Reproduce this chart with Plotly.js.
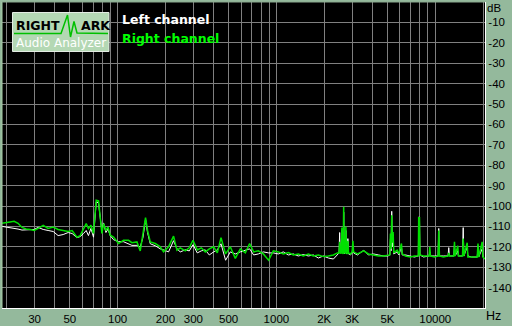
<!DOCTYPE html>
<html>
<head>
<meta charset="utf-8">
<script src="https://cdn.plot.ly/plotly-3.0.1.min.js"></script>
<style>html,body{margin:0;padding:0;background:#94b99c;}#chart{width:512px;height:326px;}</style>
</head>
<body>
<div id="chart"></div>
<script>
// ---- data (frequency in Hz, level in dB) ----
const freqHz = [
  18.7, 19.9, 21.0, 22.3, 23.6, 25.0, 26.5, 28.1, 29.8, 31.6,
  34.0, 36.5, 39.3, 42.2, 45.4, 48.8, 51.7, 55.4, 58.1, 61.0,
  63.4, 65.5, 67.9, 70.5, 73.3, 75.8, 77.7, 79.6, 81.5, 84.4,
  86.9, 89.8, 94.2, 101.3, 108.9, 117.1, 123.0, 132.3, 138.8, 144.3,
  149.9, 154.3, 160.5, 172.6, 185.5, 194.6, 209.3, 225.0, 236.4, 248.0,
  266.7, 282.6, 298.2, 317.4, 336.4, 356.5, 377.8, 402.2, 424.3, 447.7,
  478.6, 512.3, 551.0, 592.4, 637.2, 678.0, 718.6, 769.1, 827, 893,
  956, 1028, 1105, 1189, 1278, 1374, 1477, 1589, 1708, 1837,
  1976, 2124, 2284, 2421, 2480, 2502, 2525, 2560, 2584, 2610,
  2635, 2652, 2670, 2710, 2738, 2765, 2795, 2819, 2845, 2924,
  3000, 3031, 3060, 3236, 3546, 3796, 4082, 4389, 4719, 5038,
  5180, 5224, 5270, 5323, 5375, 5432, 5480, 5757, 5900, 6128,
  6200, 6492, 6981, 7396, 7830, 7870, 7960, 8010, 8434, 9150,
  9239, 9330, 9890, 10430, 10527, 10630, 11270, 12050, 12170, 12290,
  13100, 13222, 13350, 13868, 14000, 14850, 15003, 15150, 15899, 16050,
  16921, 18400, 18593, 18780, 19759, 19950, 20583
];
const leftDb = [
  -110, -110.3, -110.5, -111, -111.3, -111.8, -111.8, -111.5, -111.5, -110.5,
  -111.5, -112, -112.5, -114.5, -114, -113, -113.5, -115.5, -115, -113.5,
  -112, -114.5, -111, -115.3, -98, -98.5, -106, -112.5, -108.3, -113,
  -111.3, -114.5, -116.5, -117.5, -117.5, -118.5, -119.3, -119.3, -120, -115.5,
  -106.5, -113, -118.5, -119.5, -121, -121.5, -122.5, -117, -121, -122.5,
  -121.5, -122, -119, -123, -122, -121.5, -124, -122.5, -121.5, -118.5,
  -126.6, -122.5, -123.5, -122.5, -121.5, -121, -124, -123.5, -122.5, -123,
  -123, -123.5, -122.5, -124, -123.5, -124.5, -123.8, -124.5, -124, -125.5,
  -124.5, -125.5, -126, -123.5, -123, -113, -123, -123, -112, -123,
  -123, -103, -123.5, -123, -112, -123.5, -123, -116, -123.5, -124,
  -123, -119.5, -123, -124, -121.7, -124, -123.5, -124, -124.5, -124.5,
  -124, -116, -122, -102.6, -120, -114, -123.5, -122.5, -124, -120,
  -124, -124, -124.5, -125, -124.5, -105.4, -105.5, -124, -125, -124.5,
  -122.5, -124.5, -124.5, -124.5, -111, -124.5, -124.5, -124.5, -120.4, -124.5,
  -124.5, -119, -124.5, -122, -124.5, -124.5, -110.6, -124.5, -120, -124.5,
  -125, -125, -119.5, -125, -121, -125, -126
];
const rightDb = [
  -108.5, -108.3, -107.8, -107.5, -108.5, -110.5, -111.3, -111.5, -112, -111,
  -109.5, -111, -110.3, -111.5, -112, -112.5, -112, -115.3, -114.5, -111,
  -108.6, -111, -109.4, -113.5, -97.2, -97.5, -105.4, -113.5, -108.6, -112,
  -110.3, -114.3, -115.2, -118.4, -116.8, -116.8, -118, -117.6, -122, -114.3,
  -105.7, -112, -117.6, -118.4, -120, -122.5, -120, -114.8, -121.7, -120.5,
  -122, -120.5, -116.8, -121.5, -120.5, -122.5, -121, -120, -123, -115.5,
  -123.5, -120, -125.7, -121, -123, -118.4, -122.5, -122, -123.5, -126.6,
  -122, -122.5, -123.5, -122.8, -124, -123.5, -124.5, -123.5, -124.5, -124,
  -124.8, -124.5, -124, -123, -123, -117.6, -123, -123, -110.5, -123,
  -123.5, -100.4, -123, -123, -110, -123, -123.5, -117, -123, -123.5,
  -122.5, -117, -122.5, -123.5, -122, -123.5, -124, -124.5, -124.5, -124,
  -124, -113.5, -121, -104.5, -118, -112.7, -123, -121.7, -123.5, -118.4,
  -123.5, -124.5, -125, -124.5, -124.5, -105.7, -105.7, -124, -124.5, -124.5,
  -120, -124.5, -125, -124.5, -112, -124.5, -125, -124.5, -123, -124.5,
  -124.5, -117.6, -124.5, -119.5, -124.5, -124.5, -116, -124.5, -118, -125,
  -125, -125, -118.4, -125, -117.6, -125, -126
];
const xGridVals = [20,30,40,50,60,70,80,90,100,200,300,400,500,600,700,800,900,
  1000,2000,3000,4000,5000,6000,7000,8000,9000,10000,20000];
const xLabelMap = {30:'30',50:'50',100:'100',200:'200',300:'300',500:'500',
  1000:'1000',2000:'2K',3000:'3K',5000:'5K',10000:'10000'};
const yTickVals = [-140,-130,-120,-110,-100,-90,-80,-70,-60,-50,-40,-30,-20,-10];
const yTickText = ['-140','-130','-120','-110','-100','-90','-80','-70','-60','-50','-40','-30','-20','-10'];
const seriesNames = ['Left channel', 'Right channel'];

// ---- layout helpers ----
const W = 512, H = 326, ML = 2, MR = 27, MT = 2, MB = 18;
const PW = W - ML - MR, PH = H - MT - MB;
const px = x => (x - ML) / PW;
const py = y => 1 - (y - MT) / PH;

const traces = [
  {x: freqHz, y: leftDb, type: 'scatter', mode: 'lines', name: seriesNames[0],
   line: {color: '#ffffff', width: 1}, hoverinfo: 'skip'},
  {x: freqHz, y: rightDb, type: 'scatter', mode: 'lines', name: seriesNames[1],
   line: {color: '#00e000', width: 1.5}, hoverinfo: 'skip'}
];

const tickFont = {family: 'Liberation Sans, Arial, sans-serif', size: 11.5, color: '#000000'};
const logoPath = 'M' + px(14) + ',' + py(33.5) + ' L' + px(61) + ',' + py(33.5) +
  ' L' + px(67.5) + ',' + py(15) + ' L' + px(70.5) + ',' + py(37) +
  ' L' + px(74) + ',' + py(21.5) + ' L' + px(77) + ',' + py(33) +
  ' L' + px(108) + ',' + py(33.5);

const layout = {
  width: W, height: H,
  margin: {l: ML, r: MR, t: MT, b: MB, pad: 0},
  paper_bgcolor: '#94b99c',
  plot_bgcolor: '#000000',
  showlegend: false,
  xaxis: {
    type: 'log', range: [Math.log10(18.7), Math.log10(20583)],
    tickmode: 'array', tickvals: xGridVals,
    ticktext: xGridVals.map(v => xLabelMap[v] || ''),
    showgrid: true, gridcolor: '#808080', gridwidth: 1,
    ticks: '', tickfont: tickFont, zeroline: false,
    showline: true, linecolor: '#ffffff', linewidth: 1, fixedrange: true
  },
  yaxis: {
    side: 'right', range: [-150, 0],
    tickmode: 'array', tickvals: yTickVals, ticktext: yTickText,
    showgrid: true, gridcolor: '#808080', gridwidth: 1,
    ticks: '', tickfont: tickFont, zeroline: false,
    showline: true, linecolor: '#ffffff', linewidth: 1, fixedrange: true
  },
  shapes: [
    {type: 'line', xref: 'paper', yref: 'paper', x0: 0, x1: 0, y0: 0, y1: 1,
     line: {color: '#a9cfa9', width: 1}},
    {type: 'line', xref: 'paper', yref: 'paper', x0: 0, x1: 1, y0: 1, y1: 1,
     line: {color: '#8aa88f', width: 1}},
    {type: 'rect', xref: 'paper', yref: 'paper', x0: px(12.5), x1: px(109), y0: py(51.5), y1: py(12.5),
     fillcolor: '#b4d8b4', line: {color: '#e4ece4', width: 1}, layer: 'above'},
    {type: 'path', xref: 'paper', yref: 'paper', path: logoPath,
     line: {color: '#00c000', width: 1.5}, layer: 'above'}
  ],
  annotations: [
    {xref: 'paper', yref: 'paper', x: px(13.5), y: py(26), xanchor: 'left', yanchor: 'middle',
     text: 'RIGHT', showarrow: false,
     font: {family: 'DejaVu Sans', size: 12.5, weight: 'bold', color: '#000000'}},
    {xref: 'paper', yref: 'paper', x: px(78.5), y: py(26), xanchor: 'left', yanchor: 'middle',
     text: 'ARK', showarrow: false,
     font: {family: 'DejaVu Sans', size: 12.5, weight: 'bold', color: '#000000'}},
    {xref: 'paper', yref: 'paper', x: px(13.5), y: py(43.5), xanchor: 'left', yanchor: 'middle',
     text: 'Audio Analyzer', showarrow: false,
     font: {family: 'DejaVu Sans', size: 12, color: '#ffffff'}},
    {xref: 'paper', yref: 'paper', x: px(120), y: py(19), xanchor: 'left', yanchor: 'middle',
     text: seriesNames[0], showarrow: false,
     font: {family: 'DejaVu Sans', size: 12.5, weight: 'bold', color: '#ffffff'}},
    {xref: 'paper', yref: 'paper', x: px(120), y: py(38.5), xanchor: 'left', yanchor: 'middle',
     text: seriesNames[1], showarrow: false,
     font: {family: 'DejaVu Sans', size: 12.5, weight: 'bold', color: '#00ff00'}},
    {xref: 'paper', yref: 'paper', x: px(485), y: py(8), xanchor: 'left', yanchor: 'middle',
     text: 'dB', showarrow: false, font: tickFont},
    {xref: 'paper', yref: 'paper', x: px(484), y: py(316.5), xanchor: 'left', yanchor: 'middle',
     text: 'Hz', showarrow: false, font: {family: 'Liberation Sans, Arial, sans-serif', size: 12.5, color: '#000000'}}
  ]
};

Plotly.newPlot('chart', traces, layout, {staticPlot: true, displayModeBar: false});
</script>
</body>
</html>
